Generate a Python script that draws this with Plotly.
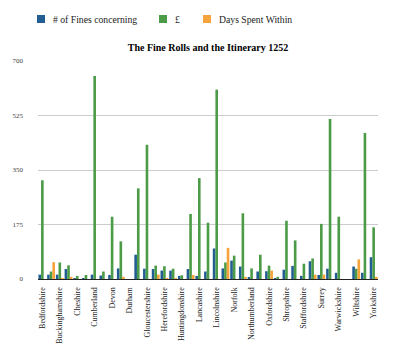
import plotly.graph_objects as go

counties = ["Bedfordshire", "Berkshire", "Buckinghamshire", "Cambridgeshire", "Cheshire",
            "Cornwall", "Cumberland", "Derbyshire", "Devon", "Dorset", "Durham", "Essex",
            "Gloucestershire", "Hampshire", "Herefordshire", "Hertfordshire", "Huntingdonshire",
            "Kent", "Lancashire", "Leicestershire", "Lincolnshire", "Middlesex", "Norfolk",
            "Northamptonshire", "Northumberland", "Nottinghamshire", "Oxfordshire", "Rutland",
            "Shropshire", "Somerset", "Staffordshire", "Suffolk", "Surrey", "Sussex",
            "Warwickshire", "Westmorland", "Wiltshire", "Worcestershire", "Yorkshire"]

fines = [14, 14, 14, 32, 2, 3, 14, 11, 13, 34, 0, 78, 33, 32, 27, 27, 10, 32, 10, 24,
         98, 34, 59, 40, 4, 24, 25, 3, 30, 42, 10, 57, 13, 33, 20, 0, 40, 20, 70]
pounds = [317, 24, 53, 44, 10, 13, 652, 24, 200, 121, 0, 291, 431, 43, 41, 33, 12, 209, 324, 181,
          608, 53, 75, 211, 34, 78, 43, 7, 187, 124, 49, 66, 177, 514, 200, 0, 33, 469, 166]
days = [0, 54, 2, 7, 0, 0, 0, 0, 0, 7, 0, 0, 0, 14, 2, 3, 0, 13, 0, 0,
        0, 100, 0, 7, 0, 0, 27, 0, 0, 0, 0, 14, 14, 0, 0, 0, 63, 0, 7]

series_names = ["# of Fines concerning", "£", "Days Spent Within"]
colors = ["#225e91", "#4b9b47", "#f5a33a"]
yticks = [0, 175, 350, 525, 700]

serif = "Liberation Serif, Times New Roman, serif"

fig = go.Figure()
for name, vals, col in zip(series_names, [fines, pounds, days], colors):
    fig.add_trace(go.Bar(x=counties, y=vals, name=name, marker_color=col,
                         marker_line_width=0, showlegend=False))

# manual legend
leg_x = [37, 159, 203]
for name, col, lx in zip(series_names, colors, leg_x):
    fig.add_shape(type="rect", xref="paper", yref="paper",
                  x0=(lx - 38) / 340, x1=(lx + 8 - 38) / 340,
                  y0=(279 - 23) / 218, y1=(279 - 15) / 218,
                  fillcolor=col, line_width=0)
    fig.add_annotation(text=name, xref="paper", yref="paper",
                       x=(lx + 14 - 38) / 340, y=(279 - 19) / 218,
                       xanchor="left", yanchor="middle", showarrow=False,
                       font=dict(family=serif, size=9.7, color="#222"))

fig.update_layout(
    width=402, height=350,
    margin=dict(l=38, r=24, t=61, b=71),
    paper_bgcolor="white", plot_bgcolor="white",
    barmode="group", bargap=0.1, bargroupgap=0,
    title=dict(text="<b>The Fine Rolls and the Itinerary 1252</b>",
               x=(208) / 402, xanchor="center", y=1 - 47 / 350, yanchor="middle",
               font=dict(family=serif, size=10, color="#000")),
    xaxis=dict(type="category", tickmode="array", tickvals=counties[::2],
               tickangle=-90, tickfont=dict(family=serif, size=8, color="#222"),
               showline=True, linecolor="#222", linewidth=1, ticks="",
               showgrid=False, automargin=False, ticklabelstandoff=4),
    yaxis=dict(range=[0, 700], tickvals=yticks, ticks="",
               tickfont=dict(family=serif, size=7, color="#444"),
               showgrid=True, gridcolor="#cccccc", gridwidth=1,
               zeroline=False, showline=False, ticklabelstandoff=14,
               automargin=False),
)

fig.write_html("out.html")
